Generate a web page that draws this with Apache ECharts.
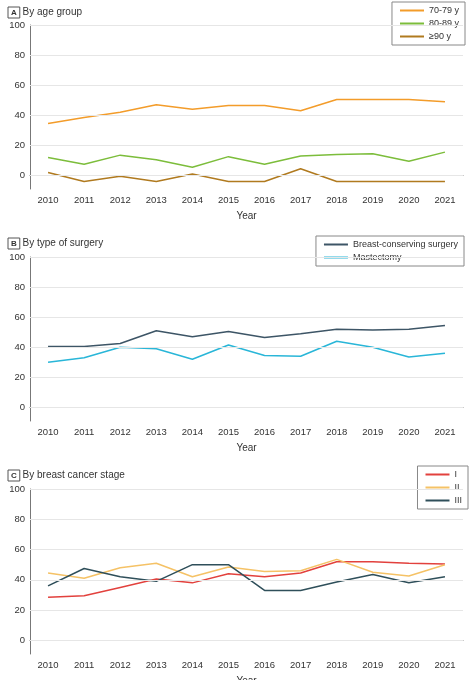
<!DOCTYPE html>
<html><head><meta charset="utf-8">
<script src="https://cdn.jsdelivr.net/npm/echarts@6/dist/echarts.min.js"></script>
<style>html,body{margin:0;background:#fff}#main{width:470px;height:680px}</style>
</head><body><div id="main"></div>
<script>
var years = ['2010','2011','2012','2013','2014','2015','2016','2017','2018','2019','2020','2021'];
var tickVals = [0, 20, 40, 60, 80, 100];
// A: age group
var age7079 = [34.5, 38.5, 42, 47, 44, 46.5, 46.5, 43, 50.5, 50.5, 50.5, 49];
var age8089 = [12, 7.5, 13.5, 10.5, 5.5, 12.5, 7.5, 13, 14, 14.5, 9.5, 15.5];
var age90 = [2, -4, -0.5, -4, 1, -4, -4, 4.5, -4, -4, -4, -4];
// B: surgery
var bcs = [40.5, 40.5, 42.5, 51, 47, 50.5, 46.5, 49, 52, 51.5, 52, 54.5];
var mast = [30, 33, 40, 39, 32, 41.5, 34.5, 34, 44, 40, 33.5, 36];
// C: stage
var stage1 = [28.5, 29.5, 35, 40.5, 38, 44, 42, 44.5, 52, 52, 51, 50.5];
var stage2 = [44.5, 41, 48, 51, 42, 48.5, 45.5, 46, 53.5, 45, 42.5, 50];
var stage3 = [36, 47.5, 42, 39, 50, 50, 33, 33, 38.5, 43.5, 38, 42];

var font = 'Liberation Sans';
var grids = [
  {left: 30, right: 7, top: 25, height: 164, containLabel: false, outerBoundsMode: 'none'},
  {left: 30, right: 7, top: 257, height: 164, containLabel: false, outerBoundsMode: 'none'},
  {left: 30, right: 7, top: 489, height: 165, containLabel: false, outerBoundsMode: 'none'}
];
var xAxes = [], yAxes = [];
for (var i = 0; i < 3; i++) {
  xAxes.push({
    type: 'category', gridIndex: i, data: years, boundaryGap: true,
    name: 'Year', nameLocation: 'middle', nameGap: 22,
    nameTextStyle: {fontFamily: font, fontSize: 10, color: '#333'},
    axisLine: {lineStyle: {color: '#777'}},
    axisTick: {alignWithLabel: true, length: 3, lineStyle: {color: '#777'}},
    axisLabel: {fontFamily: font, fontSize: 9.5, color: '#333', margin: 6}
  });
  yAxes.push({
    type: 'value', gridIndex: i, min: -9, max: 100,
    name: 'Patients, %', nameLocation: 'middle', nameGap: 20,
    nameTextStyle: {fontFamily: font, fontSize: 10, color: '#333'},
    axisLine: {show: true, lineStyle: {color: '#777'}},
    axisTick: {show: false, customValues: tickVals},
    axisLabel: {fontFamily: font, fontSize: 9.5, color: '#333', margin: 5, customValues: tickVals},
    splitLine: {show: false}
  });
}
function gridLines() {
  return {silent: true, symbol: 'none', label: {show: false},
    lineStyle: {color: '#e6e6e6', type: 'solid', width: 1},
    data: tickVals.map(function (v) { return {yAxis: v}; })};
}
function line(name, data, color, idx, withGrid) {
  var s = {name: name, type: 'line', data: data, xAxisIndex: idx, yAxisIndex: idx,
    symbol: 'none', z: 3, lineStyle: {color: color, width: 1.5}, itemStyle: {color: color}};
  if (withGrid) s.markLine = gridLines();
  return s;
}
function legend(names, right, top) {
  return {data: names, orient: 'vertical', right: right, top: top,
    borderColor: '#888', borderWidth: 1, padding: [4, 6, 4, 8], itemGap: 4,
    icon: 'rect', itemWidth: 24, itemHeight: 2, align: 'left',
    textStyle: {fontFamily: font, fontSize: 9, color: '#333'}};
}
function panelTitle(letter, text, top) {
  return {text: '{b|' + letter + '} ' + text, left: 3, top: top,
    textStyle: {fontFamily: font, fontSize: 10, fontWeight: 'normal', color: '#333',
      rich: {b: {fontFamily: font, fontSize: 8, fontWeight: 'bold', color: '#333',
        borderColor: '#555', borderWidth: 1, padding: [2, 3, 1, 3]}}}};
}
var chart = echarts.init(document.getElementById('main'));
chart.setOption({
  animation: false,
  title: [panelTitle('A', 'By age group', 2), panelTitle('B', 'By type of surgery', 233), panelTitle('C', 'By breast cancer stage', 465)],
  legend: [legend(['70-79 y', '80-89 y', '≥90 y'], 5, 2), legend(['Breast-conserving surgery', 'Mastectomy'], 6, 236), legend(['I', 'II', 'III'], 2, 466)],
  grid: grids, xAxis: xAxes, yAxis: yAxes,
  series: [
    line('70-79 y', age7079, '#f39c2a', 0, true),
    line('80-89 y', age8089, '#7cbd3b', 0),
    line('≥90 y', age90, '#b07a1f', 0),
    line('Breast-conserving surgery', bcs, '#3d5566', 1, true),
    line('Mastectomy', mast, '#29b6d8', 1),
    line('I', stage1, '#e2413d', 2, true),
    line('II', stage2, '#f5c266', 2),
    line('III', stage3, '#2f4f5a', 2)
  ]
});
</script></body></html>
